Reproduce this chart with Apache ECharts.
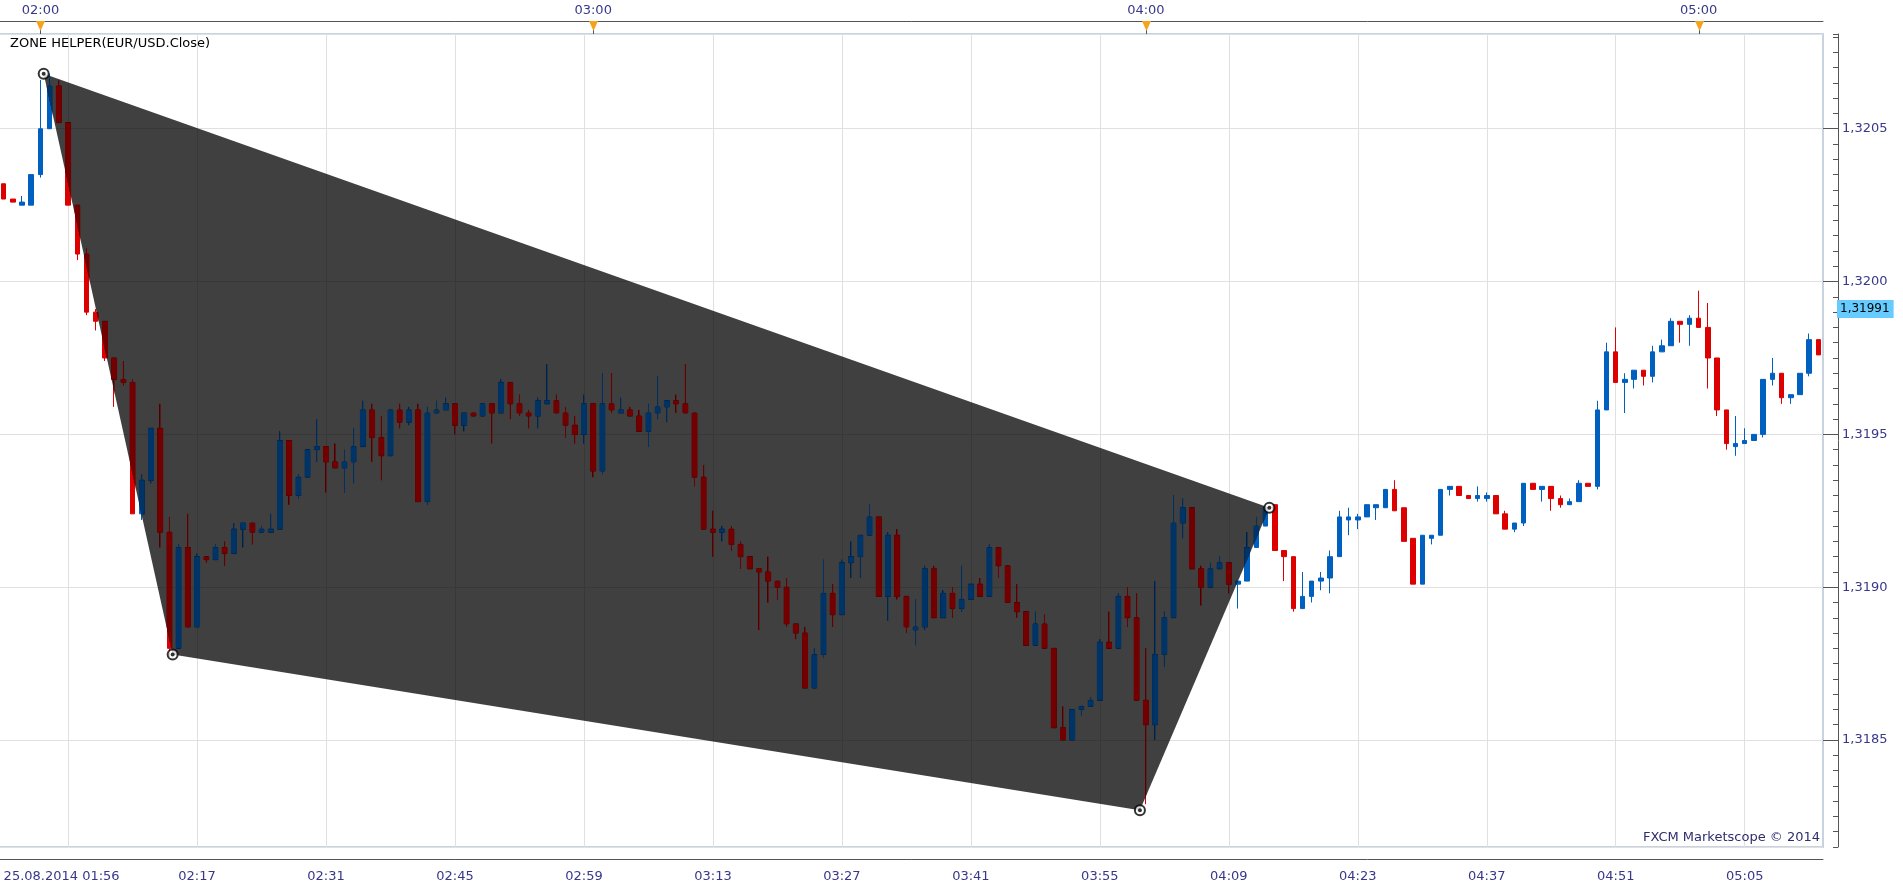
<!DOCTYPE html>
<html>
<head>
<meta charset="utf-8">
<title>EUR/USD 1m - Zone Helper</title>
<script src="https://cdn.jsdelivr.net/npm/echarts@6/dist/echarts.min.js"></script>
<style>
  html, body { margin: 0; padding: 0; background: #fff; }
  #chart { width: 1903px; height: 889px; }
</style>
</head>
<body>
<div id="chart"></div>
<script>
// 1-minute EUR/USD candles, 25.08.2014 01:56 - 05:13
var dateLabel = '25.08.2014';
var firstMinute = 116; // 01:56

var opens = [
  1.32032, 1.32027, 1.32025, 1.32025, 1.32035, 1.32050, 1.32064, 1.32052, 1.32025, 1.32009,
  1.31990, 1.31987, 1.31975, 1.31968, 1.31967, 1.31924, 1.31935, 1.31952, 1.31918, 1.31880,
  1.31913, 1.31887, 1.31910, 1.31909, 1.31913, 1.31911, 1.31919, 1.31921, 1.31918, 1.31918,
  1.31919, 1.31948, 1.31930, 1.31936, 1.31945, 1.31946, 1.31941, 1.31939, 1.31941, 1.31946,
  1.31958, 1.31949, 1.31943, 1.31958, 1.31954, 1.31958, 1.31928, 1.31957, 1.31958, 1.31960,
  1.31953, 1.31957, 1.31956, 1.31960, 1.31957, 1.31967, 1.31960, 1.31957, 1.31956, 1.31960,
  1.31961, 1.31957, 1.31953, 1.31950, 1.31960, 1.31938, 1.31960, 1.31957, 1.31958, 1.31956,
  1.31951, 1.31957, 1.31959, 1.31961, 1.31960, 1.31957, 1.31936, 1.31919, 1.31918, 1.31919,
  1.31914, 1.31910, 1.31906, 1.31905, 1.31902, 1.31900, 1.31888, 1.31885, 1.31867, 1.31878,
  1.31898, 1.31891, 1.31908, 1.31910, 1.31917, 1.31923, 1.31897, 1.31917, 1.31897, 1.31886,
  1.31887, 1.31906, 1.31890, 1.31898, 1.31893, 1.31896, 1.31901, 1.31897, 1.31913, 1.31907,
  1.31895, 1.31892, 1.31881, 1.31888, 1.31880, 1.31854, 1.31850, 1.31860, 1.31861, 1.31863,
  1.31882, 1.31880, 1.31897, 1.31890, 1.31863, 1.31855, 1.31878, 1.31890, 1.31921, 1.31926,
  1.31906, 1.31900, 1.31906, 1.31908, 1.31901, 1.31902, 1.31913, 1.31920, 1.31927, 1.31912,
  1.31910, 1.31893, 1.31897, 1.31902, 1.31903, 1.31910, 1.31922, 1.31922, 1.31923, 1.31926,
  1.31926, 1.31932, 1.31926, 1.31916, 1.31901, 1.31916, 1.31917, 1.31932, 1.31933, 1.31930,
  1.31929, 1.31929, 1.31930, 1.31924, 1.31919, 1.31921, 1.31934, 1.31932, 1.31933, 1.31929,
  1.31927, 1.31928, 1.31934, 1.31933, 1.31958, 1.31977, 1.31967, 1.31968, 1.31971, 1.31969,
  1.31977, 1.31979, 1.31987, 1.31986, 1.31988, 1.31985, 1.31975, 1.31958, 1.31946, 1.31947,
  1.31948, 1.31950, 1.31968, 1.31970, 1.31962, 1.31963, 1.31970, 1.31981
];
var closes = [
  1.32027, 1.32026, 1.32026, 1.32035, 1.32050, 1.32064, 1.32052, 1.32025, 1.32009, 1.31990,
  1.31987, 1.31975, 1.31968, 1.31967, 1.31924, 1.31935, 1.31952, 1.31918, 1.31880, 1.31913,
  1.31887, 1.31910, 1.31909, 1.31913, 1.31911, 1.31919, 1.31921, 1.31918, 1.31919, 1.31919,
  1.31948, 1.31930, 1.31936, 1.31945, 1.31946, 1.31941, 1.31939, 1.31941, 1.31946, 1.31958,
  1.31949, 1.31943, 1.31958, 1.31954, 1.31958, 1.31928, 1.31957, 1.31958, 1.31960, 1.31953,
  1.31957, 1.31956, 1.31960, 1.31957, 1.31967, 1.31960, 1.31957, 1.31956, 1.31961, 1.31961,
  1.31957, 1.31953, 1.31950, 1.31960, 1.31938, 1.31960, 1.31958, 1.31958, 1.31956, 1.31951,
  1.31957, 1.31959, 1.31961, 1.31960, 1.31957, 1.31936, 1.31919, 1.31918, 1.31919, 1.31914,
  1.31910, 1.31906, 1.31905, 1.31902, 1.31900, 1.31888, 1.31885, 1.31867, 1.31878, 1.31898,
  1.31891, 1.31908, 1.31910, 1.31917, 1.31923, 1.31897, 1.31917, 1.31897, 1.31887, 1.31887,
  1.31906, 1.31890, 1.31898, 1.31893, 1.31896, 1.31901, 1.31897, 1.31913, 1.31907, 1.31895,
  1.31892, 1.31881, 1.31888, 1.31880, 1.31854, 1.31850, 1.31860, 1.31861, 1.31863, 1.31882,
  1.31880, 1.31897, 1.31890, 1.31863, 1.31855, 1.31878, 1.31890, 1.31921, 1.31926, 1.31906,
  1.31900, 1.31906, 1.31908, 1.31901, 1.31902, 1.31913, 1.31920, 1.31926, 1.31912, 1.31910,
  1.31893, 1.31897, 1.31902, 1.31903, 1.31910, 1.31923, 1.31923, 1.31923, 1.31927, 1.31927,
  1.31932, 1.31925, 1.31915, 1.31901, 1.31917, 1.31917, 1.31932, 1.31933, 1.31930, 1.31929,
  1.31930, 1.31930, 1.31924, 1.31919, 1.31921, 1.31934, 1.31932, 1.31933, 1.31929, 1.31927,
  1.31928, 1.31934, 1.31933, 1.31958, 1.31977, 1.31967, 1.31968, 1.31971, 1.31969, 1.31977,
  1.31979, 1.31987, 1.31986, 1.31988, 1.31985, 1.31975, 1.31958, 1.31947, 1.31947, 1.31948,
  1.31950, 1.31968, 1.31970, 1.31962, 1.31963, 1.31970, 1.31981, 1.31976
];
var lows = [
  1.32027, 1.32026, 1.32025, 1.32025, 1.32034, 1.32050, 1.32052, 1.32025, 1.32007, 1.31989,
  1.31984, 1.31974, 1.31959, 1.31966, 1.31924, 1.31922, 1.31934, 1.31913, 1.31877, 1.31880,
  1.31887, 1.31887, 1.31908, 1.31909, 1.31907, 1.31911, 1.31913, 1.31914, 1.31918, 1.31918,
  1.31919, 1.31927, 1.31929, 1.31936, 1.31941, 1.31931, 1.31939, 1.31931, 1.31934, 1.31946,
  1.31941, 1.31935, 1.31943, 1.31952, 1.31953, 1.31928, 1.31927, 1.31957, 1.31958, 1.31950,
  1.31951, 1.31956, 1.31956, 1.31947, 1.31957, 1.31955, 1.31956, 1.31952, 1.31952, 1.31960,
  1.31957, 1.31949, 1.31947, 1.31947, 1.31936, 1.31937, 1.31957, 1.31957, 1.31956, 1.31951,
  1.31946, 1.31955, 1.31954, 1.31957, 1.31957, 1.31933, 1.31919, 1.31910, 1.31915, 1.31912,
  1.31906, 1.31906, 1.31886, 1.31895, 1.31896, 1.31887, 1.31883, 1.31867, 1.31867, 1.31877,
  1.31887, 1.31891, 1.31903, 1.31903, 1.31917, 1.31897, 1.31889, 1.31896, 1.31885, 1.31881,
  1.31886, 1.31890, 1.31890, 1.31890, 1.31892, 1.31896, 1.31897, 1.31897, 1.31903, 1.31895,
  1.31890, 1.31881, 1.31881, 1.31880, 1.31854, 1.31850, 1.31850, 1.31858, 1.31861, 1.31863,
  1.31880, 1.31880, 1.31887, 1.31863, 1.31829, 1.31850, 1.31874, 1.31890, 1.31916, 1.31906,
  1.31894, 1.31900, 1.31906, 1.31898, 1.31893, 1.31902, 1.31913, 1.31920, 1.31912, 1.31902,
  1.31892, 1.31893, 1.31895, 1.31899, 1.31898, 1.31910, 1.31917, 1.31919, 1.31923, 1.31922,
  1.31926, 1.31925, 1.31915, 1.31901, 1.31901, 1.31914, 1.31917, 1.31930, 1.31930, 1.31929,
  1.31928, 1.31928, 1.31924, 1.31919, 1.31918, 1.31920, 1.31932, 1.31928, 1.31925, 1.31926,
  1.31927, 1.31928, 1.31933, 1.31932, 1.31958, 1.31967, 1.31957, 1.31965, 1.31966, 1.31967,
  1.31977, 1.31979, 1.31980, 1.31979, 1.31985, 1.31965, 1.31956, 1.31945, 1.31943, 1.31947,
  1.31948, 1.31949, 1.31966, 1.31960, 1.31960, 1.31963, 1.31969, 1.31976
];
var highs = [
  1.32032, 1.32027, 1.32028, 1.32035, 1.32066, 1.32068, 1.32066, 1.32052, 1.32025, 1.32011,
  1.31991, 1.31987, 1.31975, 1.31974, 1.31968, 1.31937, 1.31952, 1.31960, 1.31923, 1.31914,
  1.31924, 1.31911, 1.31910, 1.31914, 1.31915, 1.31921, 1.31921, 1.31921, 1.31920, 1.31924,
  1.31951, 1.31948, 1.31937, 1.31945, 1.31955, 1.31946, 1.31947, 1.31945, 1.31952, 1.31961,
  1.31960, 1.31956, 1.31958, 1.31960, 1.31959, 1.31960, 1.31959, 1.31961, 1.31962, 1.31960,
  1.31957, 1.31957, 1.31960, 1.31960, 1.31968, 1.31967, 1.31963, 1.31958, 1.31962, 1.31973,
  1.31963, 1.31959, 1.31956, 1.31963, 1.31960, 1.31970, 1.31970, 1.31962, 1.31959, 1.31958,
  1.31960, 1.31969, 1.31961, 1.31963, 1.31973, 1.31957, 1.31940, 1.31925, 1.31920, 1.31920,
  1.31915, 1.31910, 1.31906, 1.31910, 1.31902, 1.31903, 1.31888, 1.31887, 1.31880, 1.31909,
  1.31901, 1.31909, 1.31915, 1.31917, 1.31927, 1.31923, 1.31918, 1.31919, 1.31897, 1.31896,
  1.31907, 1.31907, 1.31899, 1.31900, 1.31907, 1.31901, 1.31903, 1.31914, 1.31913, 1.31907,
  1.31901, 1.31892, 1.31892, 1.31891, 1.31880, 1.31861, 1.31860, 1.31861, 1.31864, 1.31883,
  1.31892, 1.31898, 1.31900, 1.31898, 1.31880, 1.31902, 1.31892, 1.31930, 1.31929, 1.31926,
  1.31907, 1.31908, 1.31910, 1.31908, 1.31902, 1.31918, 1.31923, 1.31927, 1.31927, 1.31912,
  1.31910, 1.31905, 1.31902, 1.31905, 1.31912, 1.31925, 1.31926, 1.31924, 1.31927, 1.31927,
  1.31932, 1.31935, 1.31926, 1.31916, 1.31917, 1.31917, 1.31932, 1.31933, 1.31933, 1.31930,
  1.31933, 1.31931, 1.31930, 1.31925, 1.31921, 1.31934, 1.31934, 1.31933, 1.31933, 1.31930,
  1.31929, 1.31935, 1.31934, 1.31961, 1.31980, 1.31985, 1.31970, 1.31971, 1.31971, 1.31979,
  1.31981, 1.31988, 1.31987, 1.31989, 1.31997, 1.31993, 1.31975, 1.31958, 1.31956, 1.31952,
  1.31950, 1.31968, 1.31975, 1.31970, 1.31963, 1.31970, 1.31983, 1.31981
];

// zone helper polygon (candle index, price)
var zoneIdx = [4.35, 18.35, 123.35, 137.4];
var zonePrice = [1.32068, 1.31878, 1.31827, 1.31926];

var hourMarks = [4, 64, 124, 184];
var lastPrice = 1.31991;
var priceMin = 1.31815;
var priceMax = 1.32081;

var upColor = '#0060c0', downColor = '#dd0000';
var darkUp = '#003366', darkDown = '#720000';
var axisInk = '#555555', labelInk = '#38388a', gridInk = '#e0e0e0';
var font = 'DejaVu Sans';

function pad(n) { return (n < 10 ? '0' : '') + n; }
var times = [];
for (var i = 0; i < opens.length; i++) {
  var m = firstMinute + i;
  times.push(pad(Math.floor(m / 60)) + ':' + pad(m % 60));
}
var candles = opens.map(function (o, i) { return [o, closes[i], lows[i], highs[i]]; });
var darkRows = opens.map(function (o, i) { return [i, o, closes[i], lows[i], highs[i]]; });
var zoneRows = zoneIdx.map(function (v, k) { return [v, zonePrice[k]]; });

function slot(i) { return ((i - 7) % 14 + 14) % 14; }
function isMajor(i) { return i >= 7 && slot(i) === 0; }
var minorSlots = [2, 4, 5, 7, 9, 11, 12];
var topTickMinutes = [0, 8, 15, 23, 30, 38, 45, 53];

function zonePoints(api) {
  return zoneIdx.map(function (v, k) { return api.coord([v, zonePrice[k]]); });
}

var chart = echarts.init(document.getElementById('chart'));
chart.setOption({
  animation: false,
  backgroundColor: '#fff',
  title: [
    { text: 'ZONE HELPER(EUR/USD.Close)', left: 10, top: 37, padding: 0,
      textStyle: { fontFamily: font, fontSize: 13, fontWeight: 'normal', color: '#000' } },
    { text: 'FXCM Marketscope \u00a9 2014', right: 83, top: 831, padding: 0,
      textStyle: { fontFamily: font, fontSize: 13, fontWeight: 'normal', color: '#2e2e6e' } }
  ],
  grid: { left: -1, right: 80, top: 34, bottom: 42, show: true, borderColor: '#c9d3df', borderWidth: 2,
    containLabel: false, outerBoundsMode: 'none' },
  xAxis: [
    {
      type: 'category', data: times, position: 'bottom', offset: 12,
      axisLine: { onZero: false, lineStyle: { color: axisInk } },
      axisTick: { inside: true, length: 12, alignWithLabel: true,
        interval: function (i) { return i === 0 || isMajor(i); }, lineStyle: { color: axisInk } },
      axisLabel: {
        interval: function (i) { return i === 0 || (i >= 21 && slot(i) === 0); },
        formatter: function (v, i) { return i === 0 ? dateLabel + ' ' + v : v; },
        alignMinLabel: 'left',
        color: labelInk, fontFamily: font, fontSize: 13, margin: 11
      },
      splitLine: { show: true, alignWithLabel: true, interval: function (i) { return isMajor(i); },
        lineStyle: { color: gridInk } }
    },
    {
      type: 'category', data: times, position: 'top', offset: 13,
      axisLine: { onZero: false, lineStyle: { color: axisInk } },
      axisTick: { inside: true, length: 3, alignWithLabel: true, lineStyle: { color: axisInk },
        interval: function (i) { return topTickMinutes.indexOf((firstMinute + i) % 60) >= 0; } },
      axisLabel: {
        interval: function (i) { return (firstMinute + i) % 60 === 0; },
        color: labelInk, fontFamily: font, fontSize: 13, margin: 4
      },
      splitLine: { show: false }
    },
    {
      type: 'category', data: times, position: 'bottom', offset: 12,
      axisLine: { show: false, onZero: false },
      axisTick: { inside: true, length: 5, alignWithLabel: true, lineStyle: { color: axisInk },
        interval: function (i) { return minorSlots.indexOf(slot(i)) >= 0; } },
      axisLabel: { show: false },
      splitLine: { show: false }
    },
    {
      // hidden numeric twin of the time axis, for the zone helper's in-between points
      type: 'value', show: false, min: -0.5, max: opens.length - 0.5,
      axisLine: { onZero: false },
      splitLine: { show: false }
    }
  ],
  yAxis: [
    {
      type: 'value', position: 'right', offset: 15, min: priceMin, max: priceMax, splitNumber: 5,
      axisLine: { show: true, onZero: false, lineStyle: { color: axisInk } },
      axisTick: { show: true, inside: true, length: 15, lineStyle: { color: axisInk } },
      axisLabel: { margin: 4, color: labelInk, fontFamily: font, fontSize: 13,
        showMinLabel: false, showMaxLabel: false,
        formatter: function (v) { return v.toFixed(4).replace('.', ','); } },
      splitLine: { show: true, lineStyle: { color: gridInk } }
    },
    {
      type: 'value', position: 'right', offset: 15, min: priceMin, max: priceMax, interval: 0.00005,
      axisLine: { show: false, onZero: false },
      axisTick: { show: true, inside: true, length: 5, lineStyle: { color: axisInk } },
      axisLabel: { show: false },
      splitLine: { show: false }
    }
  ],
  series: [
    {
      type: 'candlestick', xAxisIndex: 0, yAxisIndex: 0, z: 2, silent: true,
      barWidth: 5,
      itemStyle: { color: upColor, color0: downColor, borderColor: upColor, borderColor0: downColor, borderWidth: 1 },
      data: candles,
      markLine: {
        silent: true, symbol: ['none', 'none'], animation: false, precision: 5,
        lineStyle: { color: 'rgba(0,0,0,0)', width: 0 },
        label: { show: true, position: 'end', distance: 14,
          formatter: function () { return lastPrice.toFixed(5).replace('.', ','); },
          backgroundColor: '#66ccff', color: '#000', padding: [3, 4, 3, 3],
          fontFamily: font, fontSize: 12 },
        data: [{ yAxis: lastPrice }]
      }
    },
    {
      type: 'custom', xAxisIndex: 3, yAxisIndex: 0, z: 3, silent: true,
      data: [zoneRows[0]],
      encode: { x: 0, y: 1 },
      renderItem: function (params, api) {
        return { type: 'polygon', shape: { points: zonePoints(api) },
          style: { fill: 'rgba(0,0,0,0.75)' } };
      }
    },
    {
      type: 'custom', xAxisIndex: 3, yAxisIndex: 0, z: 4, silent: true,
      data: darkRows,
      encode: { x: 0, y: [1, 2, 3, 4] },
      renderItem: function (params, api) {
        var i = api.value(0), o = api.value(1), c = api.value(2);
        var pO = api.coord([i, o]), pC = api.coord([i, c]);
        var pL = api.coord([i, api.value(3)]), pH = api.coord([i, api.value(4)]);
        var x = pO[0];
        var color = c >= o ? darkUp : darkDown;
        var top = Math.min(pO[1], pC[1]);
        var h = Math.max(1, Math.abs(pO[1] - pC[1]));
        return {
          type: 'group',
          clipPath: { type: 'polygon', shape: { points: zonePoints(api) } },
          children: [
            { type: 'line', shape: { x1: x, y1: pH[1], x2: x, y2: pL[1] }, style: { stroke: color, lineWidth: 1 } },
            { type: 'rect', shape: { x: x - 3, y: top, width: 6, height: h }, style: { fill: color } }
          ]
        };
      }
    },
    {
      type: 'scatter', xAxisIndex: 3, yAxisIndex: 0, z: 5, silent: true,
      symbol: 'circle', symbolSize: 10,
      itemStyle: { color: '#fff', borderColor: '#000', borderWidth: 2 },
      data: zoneRows
    },
    {
      type: 'scatter', xAxisIndex: 3, yAxisIndex: 0, z: 6, silent: true,
      symbol: 'circle', symbolSize: 4,
      itemStyle: { color: '#000' },
      data: zoneRows
    },
    {
      type: 'custom', xAxisIndex: 0, yAxisIndex: 0, z: 6, silent: true, clip: false,
      data: hourMarks.map(function (i) { return [i, priceMax]; }),
      encode: { x: 0, y: 1 },
      renderItem: function (params, api) {
        var p = api.coord([api.value(0), api.value(1)]);
        var x = Math.round(p[0]) + 0.5;
        return {
          type: 'group',
          children: [
            { type: 'line', shape: { x1: x, y1: p[1] - 13, x2: x, y2: p[1] }, style: { stroke: axisInk, lineWidth: 1 } },
            { type: 'polygon', shape: { points: [[x - 4.5, p[1] - 13], [x + 4.5, p[1] - 13], [x, p[1] - 3]] },
              style: { fill: '#f5a31a' } }
          ]
        };
      }
    }
  ]
});
</script>
</body>
</html>
